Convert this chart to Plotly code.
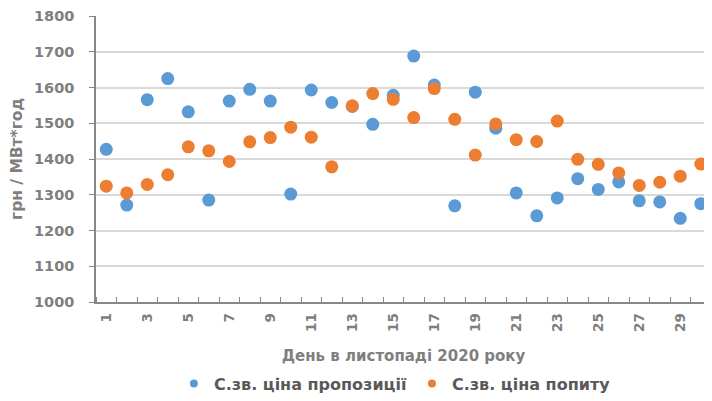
import plotly.graph_objects as go

days = list(range(1, 31))
supply = [1427, 1271, 1566, 1625, 1532, 1285, 1562, 1595, 1562, 1302,
          1593, 1558, 1547, 1497, 1578, 1688, 1607, 1269, 1587, 1486,
          1305, 1241, 1291, 1345, 1315, 1336, 1283, 1280, 1234, 1275]
demand = [1324, 1305, 1329, 1356, 1434, 1423, 1393, 1448, 1460, 1489,
          1461, 1378, 1549, 1583, 1567, 1516, 1597, 1511, 1411, 1498,
          1454, 1449, 1506, 1399, 1385, 1361, 1326, 1335, 1352, 1386]
x_tick_days = days[::2]
y_ticks = [1000, 1100, 1200, 1300, 1400, 1500, 1600, 1700, 1800]
series_names = ["С.зв. ціна пропозиції", "С.зв. ціна попиту"]
series_colors = ["#5B9BD5", "#ED7D31"]

FONT = "DejaVu Sans"
GRAY = "#7F7F7F"
AXIS = "#878787"

fig = go.Figure()
for vals, name, color in zip([supply, demand], series_names, series_colors):
    fig.add_trace(go.Scatter(x=days, y=vals, mode="markers", name=name, showlegend=False,
                             marker=dict(color=color, size=13)))
for name, color in zip(series_names, series_colors):
    fig.add_trace(go.Scatter(x=[None], y=[None], mode="markers", name=name, showlegend=True,
                             marker=dict(color=color, size=8)))

fig.update_layout(
    width=712, height=401,
    margin=dict(l=88, r=9, t=8, b=107, autoexpand=False),
    paper_bgcolor="white", plot_bgcolor="white",
    font=dict(family=FONT, color=GRAY),
    showlegend=True,
    legend=dict(orientation="h", x=0.486, xanchor="center", y=-0.226, yanchor="top",
                font=dict(family=FONT, size=16, color="#595959", weight="bold"),
                itemwidth=30, tracegroupgap=0),
)
fig.update_xaxes(
    range=[0.5, 30.5], automargin=False,
    tickmode="array", tickvals=x_tick_days, ticktext=[str(d) for d in x_tick_days],
    tickangle=-90, ticks="", ticklabelstandoff=4,
    tickfont=dict(family=FONT, size=13.5, color=GRAY, weight="bold"),
    showgrid=False, zeroline=False,
    showline=True, linecolor=AXIS, linewidth=1.5,
    minor=dict(tick0=0.5, dtick=1, ticks="inside", ticklen=5, tickcolor=AXIS, tickwidth=1, showgrid=False),
    title=dict(text="День в листопаді 2020 року", standoff=20,
               font=dict(family=FONT, size=15, color=GRAY, weight="bold")),
)
fig.update_yaxes(
    range=[1000, 1800], automargin=False,
    tickmode="array", tickvals=y_ticks,
    ticks="outside", ticklen=5, tickcolor=AXIS, tickwidth=1,
    ticklabelstandoff=12,
    tickfont=dict(family=FONT, size=14.5, color=GRAY, weight="bold"),
    showgrid=True, gridcolor="#D9D9D9", gridwidth=1.5,
    zeroline=False,
    showline=True, linecolor=AXIS, linewidth=1.5,
    title=dict(text="грн / МВт*год", standoff=8,
               font=dict(family=FONT, size=15.5, color=GRAY, weight="bold")),
)

fig.write_html("out.html")
